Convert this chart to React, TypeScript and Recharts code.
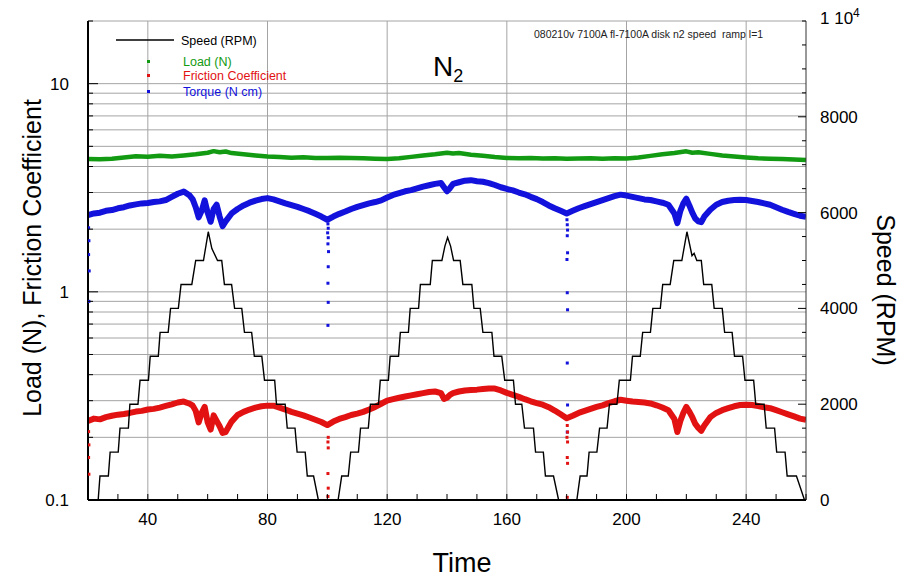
import {
    CartesianGrid,
    ComposedChart,
    Line,
    ReferenceLine,
    Scatter,
    XAxis,
    YAxis,
} from 'recharts';

const FONT = '"Liberation Sans", Arial, Helvetica, sans-serif';

const GREEN = '#129a12';
const RED = '#e21212';
const BLUE = '#1212dc';
const GRID = '#a4a4a4';

// tick values
const timeTicks = [20, 30, 40, 50, 60, 70, 80, 90, 100, 110, 120, 130, 140, 150, 160, 170, 180, 190, 200, 210, 220, 230, 240, 250, 260];
const timeLabels = [40, 80, 120, 160, 200, 240];
const logTicks = [0.1, 0.2, 0.3, 0.4, 0.5, 0.6, 0.7, 0.8, 0.9, 1, 2, 3, 4, 5, 6, 7, 8, 9, 10, 20];
const logLabels = [0.1, 1, 10];
const speedTicks = [0, 500, 1000, 1500, 2000, 2500, 3000, 3500, 4000, 4500, 5000, 5500, 6000, 6500, 7000, 7500, 8000, 8500, 9000, 9500, 10000];
const speedLabels = [0, 2000, 4000, 6000, 8000];

// [time, load N]
const loadPts: [number, number][] = [
    [20, 4.35], [24, 4.33], [28, 4.36], [32, 4.42], [36, 4.48], [40, 4.46], [44, 4.5], [48, 4.47],
    [52, 4.52], [56, 4.58], [60, 4.66], [62, 4.74], [64, 4.68], [66, 4.72], [68, 4.64], [72, 4.58],
    [76, 4.52], [80, 4.47], [84, 4.44], [88, 4.41], [92, 4.43], [96, 4.4], [100, 4.39], [104, 4.41],
    [108, 4.4], [112, 4.38], [116, 4.36], [120, 4.35], [124, 4.38], [128, 4.45], [132, 4.52], [136, 4.58],
    [140, 4.66], [142, 4.62], [144, 4.64], [148, 4.56], [152, 4.5], [156, 4.44], [160, 4.4], [164, 4.38],
    [168, 4.39], [172, 4.37], [176, 4.38], [180, 4.36], [184, 4.37], [188, 4.38], [192, 4.36], [196, 4.38],
    [200, 4.37], [204, 4.42], [208, 4.5], [212, 4.58], [216, 4.64], [220, 4.73], [222, 4.66], [224, 4.68],
    [228, 4.6], [232, 4.52], [236, 4.47], [240, 4.42], [244, 4.38], [248, 4.36], [252, 4.35], [256, 4.32],
    [260, 4.3],
];

// [time, torque N cm]
const torquePts: [number, number][] = [
    [20, 2.34], [22, 2.38], [24, 2.4], [26, 2.45], [28, 2.47], [30, 2.52], [32, 2.55], [34, 2.6],
    [36, 2.63], [38, 2.66], [40, 2.67], [42, 2.7], [44, 2.72], [46, 2.76], [48, 2.86], [50, 2.96],
    [52, 3.03], [54, 2.9], [55, 2.78], [56, 2.55], [57, 2.28], [58, 2.45], [59, 2.75], [60, 2.4],
    [61, 2.17], [62, 2.5], [63, 2.62], [64, 2.3], [65, 2.07], [66, 2.18], [68, 2.38], [70, 2.5],
    [72, 2.6], [74, 2.68], [76, 2.74], [78, 2.79], [80, 2.82], [82, 2.78], [84, 2.72], [86, 2.66],
    [88, 2.61], [90, 2.56], [92, 2.5], [94, 2.44], [96, 2.37], [98, 2.3], [100, 2.22], [102, 2.3],
    [104, 2.37], [106, 2.43], [108, 2.5], [110, 2.56], [112, 2.61], [114, 2.66], [116, 2.7], [118, 2.75],
    [120, 2.84], [122, 2.92], [124, 2.98], [126, 3.04], [128, 3.08], [130, 3.14], [132, 3.2], [134, 3.25],
    [136, 3.3], [138, 3.33], [139, 3.18], [140, 3.04], [141, 3.15], [142, 3.3], [144, 3.36], [146, 3.42],
    [148, 3.44], [150, 3.4], [152, 3.38], [154, 3.33], [156, 3.26], [158, 3.18], [160, 3.12], [162, 3.07],
    [164, 3.0], [166, 2.94], [168, 2.86], [170, 2.79], [172, 2.7], [174, 2.6], [176, 2.52], [178, 2.45],
    [180, 2.38], [182, 2.45], [184, 2.52], [186, 2.58], [188, 2.64], [190, 2.7], [192, 2.76], [194, 2.82],
    [196, 2.88], [198, 2.93], [200, 2.9], [202, 2.86], [204, 2.82], [206, 2.78], [208, 2.76], [210, 2.72],
    [212, 2.68], [214, 2.62], [216, 2.38], [217, 2.14], [218, 2.45], [219, 2.66], [220, 2.8], [221, 2.6],
    [222, 2.4], [223, 2.25], [224, 2.18], [225, 2.16], [226, 2.3], [228, 2.48], [230, 2.62], [232, 2.7],
    [234, 2.74], [236, 2.76], [238, 2.77], [240, 2.76], [242, 2.73], [244, 2.7], [246, 2.66], [248, 2.62],
    [250, 2.55], [252, 2.48], [254, 2.42], [256, 2.37], [258, 2.32], [260, 2.29],
];

// [time, friction coefficient]
const frictionPts: [number, number][] = [
    [20, 0.24], [22, 0.246], [24, 0.244], [26, 0.25], [28, 0.254], [30, 0.257], [32, 0.259], [34, 0.262],
    [36, 0.266], [38, 0.268], [40, 0.272], [42, 0.274], [44, 0.278], [46, 0.283], [48, 0.288], [50, 0.294],
    [52, 0.297], [54, 0.29], [55, 0.284], [56, 0.268], [57, 0.236], [58, 0.262], [59, 0.28], [60, 0.236],
    [61, 0.218], [62, 0.255], [63, 0.24], [64, 0.226], [65, 0.21], [66, 0.212], [68, 0.238], [70, 0.256],
    [72, 0.265], [74, 0.272], [76, 0.278], [78, 0.282], [80, 0.284], [82, 0.284], [84, 0.278], [86, 0.272],
    [88, 0.265], [90, 0.26], [92, 0.255], [94, 0.249], [96, 0.243], [98, 0.237], [100, 0.229], [102, 0.238],
    [104, 0.245], [106, 0.25], [108, 0.256], [110, 0.26], [112, 0.265], [114, 0.272], [116, 0.28], [118, 0.29],
    [120, 0.3], [122, 0.305], [124, 0.31], [126, 0.314], [128, 0.318], [130, 0.322], [132, 0.326], [134, 0.33],
    [136, 0.332], [138, 0.326], [139, 0.306], [140, 0.31], [141, 0.32], [142, 0.326], [144, 0.332], [146, 0.336],
    [148, 0.338], [150, 0.339], [152, 0.341], [154, 0.343], [156, 0.343], [158, 0.336], [160, 0.327], [162, 0.32],
    [164, 0.313], [166, 0.305], [168, 0.298], [170, 0.292], [172, 0.287], [174, 0.279], [176, 0.269], [178, 0.258],
    [180, 0.247], [182, 0.254], [184, 0.262], [186, 0.268], [188, 0.274], [190, 0.28], [192, 0.285], [194, 0.292],
    [196, 0.298], [198, 0.303], [200, 0.3], [202, 0.297], [204, 0.296], [206, 0.294], [208, 0.291], [210, 0.285],
    [212, 0.278], [214, 0.27], [216, 0.245], [217, 0.212], [218, 0.24], [219, 0.262], [220, 0.28], [221, 0.266],
    [222, 0.25], [223, 0.232], [224, 0.222], [225, 0.215], [226, 0.228], [228, 0.25], [230, 0.262], [232, 0.27],
    [234, 0.276], [236, 0.282], [238, 0.286], [240, 0.287], [242, 0.286], [244, 0.283], [246, 0.279], [248, 0.276],
    [250, 0.27], [252, 0.264], [254, 0.258], [256, 0.252], [258, 0.246], [260, 0.243],
];

// stray torque / friction samples at the low-speed turnarounds
const torqueDrops: [number, number][] = [
    [20.2, 2.03], [20.3, 1.76], [20.2, 1.51], [20.4, 1.26], [20.3, 0.9],
    [100.2, 2.12], [100.3, 2.02], [100.1, 1.92], [100.3, 1.82], [100.2, 1.7], [100.4, 1.56],
    [100.3, 1.32], [100.2, 1.1], [100.3, 0.89], [100.2, 0.69],
    [180.1, 2.22], [180.2, 2.1], [180.3, 1.98], [180.2, 1.86], [180.3, 1.54], [180.1, 1.43],
    [180.2, 0.99], [180.3, 0.82], [180.2, 0.455], [180.3, 0.286], [180.2, 0.212],
];
const frictionDrops: [number, number][] = [
    [20.2, 0.213], [20.3, 0.184], [20.2, 0.16], [20.3, 0.133],
    [100.3, 0.2], [100.2, 0.19], [100.3, 0.178], [100.2, 0.134], [100.3, 0.114], [100.2, 0.104],
    [180.2, 0.228], [180.3, 0.212], [180.1, 0.2], [180.3, 0.19], [180.2, 0.16], [180.3, 0.15], [180.2, 0.103],
];

// [time, speed RPM] – stepped ramps
const speedPts: [number, number][] = [
    [20, 0], [23.4, 0], [24.0, 500], [26.8, 500], [27.4, 1000], [30.1, 1000], [30.7, 1500], [33.5, 1500],
    [34.0, 2000], [36.7, 2000], [37.4, 2500], [40.2, 2500], [40.8, 3000], [43.5, 3000], [44.1, 3500], [46.8, 3500],
    [47.6, 4000], [50.2, 4000], [51.1, 4500], [54.7, 4500], [56.0, 5000], [58.6, 5000], [60.2, 5600],
    [61.4, 5250], [63.3, 5000], [64.7, 5000], [65.6, 4500], [68.0, 4500], [69.0, 4000], [71.4, 4000],
    [72.3, 3500], [74.7, 3500], [75.6, 3000], [78.1, 3000], [79.0, 2500], [82.4, 2500], [83.0, 2000], [85.9, 2000],
    [86.6, 1500], [89.2, 1500], [89.9, 1000], [92.6, 1000], [93.3, 500], [95.4, 500], [97.0, 0], [103.6, 0],
    [104.8, 500], [107.0, 500], [107.8, 1000], [110.4, 1000], [111.1, 1500], [113.7, 1500], [114.4, 2000], [117.1, 2000],
    [117.7, 2500], [120.4, 2500], [121.0, 3000], [123.8, 3000], [124.4, 3500], [127.1, 3500], [127.7, 4000], [130.5, 4000],
    [131.1, 4500], [134.4, 4500], [135.1, 5000], [138.3, 5000], [139.3, 5300], [140.2, 5480], [141.2, 5300], [142.2, 5000],
    [144.4, 5000], [145.3, 4500], [148.3, 4500], [149.0, 4000], [151.1, 4000], [152.0, 3500], [155.0, 3500], [155.7, 3000],
    [158.3, 3000], [159.3, 2500], [162.2, 2500], [162.9, 2000], [165.0, 2000], [165.9, 1500], [168.9, 1500], [169.6, 1000],
    [172.2, 1000], [172.9, 500], [175.6, 500], [177.3, 0], [183.4, 0],
    [184.5, 500], [186.8, 500], [187.5, 1000], [190.1, 1000], [191.0, 1500], [193.5, 1500], [194.3, 2000], [196.8, 2000],
    [197.6, 2500], [201.3, 2500], [202.0, 3000], [204.6, 3000], [205.4, 3500], [208.0, 3500], [208.8, 4000], [211.3, 4000],
    [212.1, 4500], [214.6, 4500], [215.8, 5000], [218.5, 5000], [220.2, 5600], [221.9, 5100], [222.6, 5150], [223.5, 5000],
    [225.0, 5000], [225.8, 4500], [228.5, 4500], [229.3, 4000], [232.0, 4000], [232.8, 3500], [235.3, 3500], [236.1, 3000],
    [238.8, 3000], [239.6, 2500], [242.5, 2500], [243.2, 2000], [246.0, 2000], [246.7, 1500], [249.5, 1500], [250.2, 1000],
    [253.0, 1000], [253.7, 500], [256.8, 500], [259.5, 0], [260, 0],
];

const rows = (pts: [number, number][]) => pts.map(([t, v]) => ({ t, v }));

function BottomTick({ x, y, payload }: any) {
    const v = payload.value;
    return (
        <g>
            <line x1={x} x2={x} y1={y} y2={y - 6} stroke="#000" strokeWidth={1} />
            {timeLabels.includes(v) && (
                <text x={x} y={y + 25} textAnchor="middle" fontSize={17} fontFamily={FONT} fill="#000">
                    {v}
                </text>
            )}
        </g>
    );
}

function TopTick({ x, y }: any) {
    return <line x1={x} x2={x} y1={y} y2={y + 6} stroke="#000" strokeWidth={1} />;
}

function LeftTick({ x, y, payload }: any) {
    const v = payload.value;
    const major = logLabels.includes(v);
    return (
        <g>
            <line x1={x} x2={x + (major ? 10 : 5)} y1={y} y2={y} stroke="#000" strokeWidth={1} />
            {major && (
                <text x={x - 19} y={y} dy="0.35em" textAnchor="end" fontSize={17} fontFamily={FONT} fill="#000">
                    {v}
                </text>
            )}
        </g>
    );
}

function RightTick({ x, y, payload }: any) {
    const v = payload.value;
    const major = speedLabels.includes(v);
    return (
        <g>
            <line x1={x} x2={x - (major ? 8 : 4)} y1={y} y2={y} stroke="#000" strokeWidth={1} />
            {major && (
                <text x={x + 14} y={y} dy="0.35em" fontSize={17} fontFamily={FONT} fill="#000">
                    {v}
                </text>
            )}
            {v === 10000 && (
                <text x={x + 14} y={y - 3} dy="0.35em" fontSize={17} fontFamily={FONT} fill="#000">
                    1 10
                    <tspan fontSize={12} dy={-7}>4</tspan>
                </text>
            )}
        </g>
    );
}

const dot = (color: string) => (props: any) =>
    <rect x={props.cx - 1.5} y={props.cy - 1.5} width={3} height={3} fill={color} />;

export default function App() {
    return (
        <div style={{ position: 'absolute', left: 0, top: 0, width: 910, height: 578, background: '#fff' }}>
            <ComposedChart width={910} height={578} margin={{ top: 21, right: 0, bottom: 0, left: 0 }}>
                <CartesianGrid yAxisId="left" vertical={false} stroke={GRID} strokeWidth={1} />
                <XAxis
                    dataKey="t"
                    type="number"
                    domain={[20, 260]}
                    allowDataOverflow
                    ticks={timeTicks}
                    interval={0}
                    height={78}
                    tickSize={0}
                    tickMargin={0}
                    tickLine={false}
                    tick={<BottomTick />}
                    axisLine={{ stroke: '#000', strokeWidth: 2 }}
                />
                <XAxis
                    xAxisId="top"
                    orientation="top"
                    dataKey="t"
                    type="number"
                    domain={[20, 260]}
                    ticks={timeTicks}
                    interval={0}
                    height={0}
                    tickSize={0}
                    tickMargin={0}
                    tickLine={false}
                    tick={<TopTick />}
                    axisLine={{ stroke: '#333', strokeWidth: 1 }}
                />
                <YAxis
                    yAxisId="left"
                    scale="log"
                    domain={[0.1, 20]}
                    allowDataOverflow
                    ticks={logTicks}
                    interval={0}
                    width={88}
                    tickSize={0}
                    tickMargin={0}
                    tickLine={false}
                    tick={<LeftTick />}
                    axisLine={{ stroke: '#000', strokeWidth: 2 }}
                />
                <YAxis
                    yAxisId="right"
                    orientation="right"
                    domain={[0, 10000]}
                    allowDataOverflow
                    ticks={speedTicks}
                    interval={0}
                    width={104}
                    tickSize={0}
                    tickMargin={0}
                    tickLine={false}
                    tick={<RightTick />}
                    axisLine={{ stroke: '#333', strokeWidth: 1 }}
                />
                {timeLabels.map((t) => (
                    <ReferenceLine key={t} yAxisId="left" x={t} stroke={GRID} strokeWidth={1} />
                ))}
                <Line yAxisId="left" data={rows(loadPts)} dataKey="v" type="linear" stroke={GREEN} strokeWidth={4.5} strokeLinejoin="round" dot={false} isAnimationActive={false} />
                <Line yAxisId="left" data={rows(torquePts)} dataKey="v" type="linear" stroke={BLUE} strokeWidth={6} strokeLinejoin="round" dot={false} isAnimationActive={false} />
                <Line yAxisId="left" data={rows(frictionPts)} dataKey="v" type="linear" stroke={RED} strokeWidth={6} strokeLinejoin="round" dot={false} isAnimationActive={false} />
                <Scatter yAxisId="left" data={rows(torqueDrops)} dataKey="v" shape={dot(BLUE)} isAnimationActive={false} />
                <Scatter yAxisId="left" data={rows(frictionDrops)} dataKey="v" shape={dot(RED)} isAnimationActive={false} />
                <Line yAxisId="right" data={rows(speedPts)} dataKey="v" type="linear" stroke="#000" strokeWidth={1.4} dot={false} isAnimationActive={false} />
            </ComposedChart>
            <svg width={910} height={578} style={{ position: 'absolute', left: 0, top: 0, pointerEvents: 'none' }} fontFamily={FONT}>
                <line x1={116} x2={174} y1={40} y2={40} stroke="#000" strokeWidth={1.3} />
                <text x={181} y={44.5} fontSize={12.5} fill="#000">Speed (RPM)</text>
                <rect x={147} y={60} width={3} height={3} fill={GREEN} />
                <text x={183} y={65.5} fontSize={12.5} fill={GREEN}>Load (N)</text>
                <rect x={147} y={74} width={3} height={3} fill={RED} />
                <text x={183} y={79.5} fontSize={12.5} fill={RED}>Friction Coefficient</text>
                <rect x={147} y={90} width={3} height={3} fill={BLUE} />
                <text x={183} y={95.5} fontSize={12.5} fill={BLUE}>Torque (N cm)</text>
                <text x={433} y={76} fontSize={28} fill="#000">
                    N<tspan fontSize={18} dy={6}>2</tspan>
                </text>
                <text x={534} y={38} fontSize={10.5} fill="#222" style={{ whiteSpace: 'pre' }}>
                    080210v 7100A fl-7100A disk n2 speed  ramp l=1
                </text>
                <text x={32} y={258} fontSize={25} textAnchor="middle" dy="0.35em" transform="rotate(-90 32 258)" fill="#000">
                    Load (N), Friction Coefficient
                </text>
                <text x={886} y={290} fontSize={25} textAnchor="middle" dy="0.35em" transform="rotate(90 886 290)" fill="#000">
                    Speed (RPM)
                </text>
                <text x={462} y={572} fontSize={27} textAnchor="middle" fill="#000">Time</text>
            </svg>
        </div>
    );
}
